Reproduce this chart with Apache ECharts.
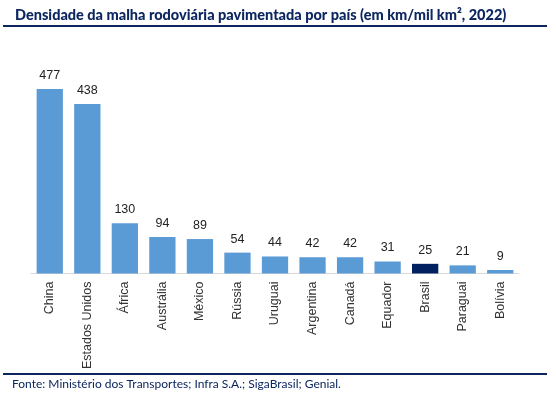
<!DOCTYPE html>
<html><head><meta charset="utf-8">
<script src="https://cdn.jsdelivr.net/npm/echarts@6/dist/echarts.min.js"></script>
<style>html,body{margin:0;padding:0;background:#fff}#c{width:556px;height:399px}</style>
</head><body><div id="c"></div>
<script>
const categories = ['China','Estados Unidos','África','Austrália','México','Rússia','Uruguai','Argentina','Canadá','Equador','Brasil','Paraguai','Bolívia'];
const values = [477,438,130,94,89,54,44,42,42,31,25,21,9];
const highlight = 'Brasil';
const titleText = 'Densidade da malha rodoviária pavimentada por país (em km/mil km², 2022)';
const sourceText = 'Fonte: Ministério dos Transportes; Infra S.A.; SigaBrasil; Genial.';

const navy = '#0c2660';
const chart = echarts.init(document.getElementById('c'), null, {renderer:'canvas'});
chart.setOption({
  animation:false,
  backgroundColor:'#fff',
  title:{text:titleText,left:10,top:3,textStyle:{fontFamily:'Lato',fontWeight:900,fontSize:14.5,color:navy}},
  graphic:[
    {type:'rect',shape:{x:3,y:25,width:544,height:2},style:{fill:navy}},
    {type:'rect',shape:{x:3,y:373,width:544,height:2},style:{fill:navy}},
    {type:'text',left:12,top:378,style:{text:sourceText,font:'12px Lato',fill:navy}}
  ],
  grid:{left:31,right:37,top:80,bottom:125.5,containLabel:false},
  xAxis:{type:'category',data:categories,
    axisLine:{lineStyle:{color:'#d9d9d9',width:1}},axisTick:{show:false},
    axisLabel:{rotate:90,fontSize:12.5,color:'#333',fontFamily:'Liberation Sans',margin:8}},
  yAxis:{type:'value',min:0,max:500,show:false,splitLine:{show:false}},
  series:[{type:'bar',barWidth:'70%',
    data:values.map((v,i)=>({value:v,itemStyle:{color:categories[i]===highlight?'#002060':'#5b9bd5'}})),
    label:{show:true,position:'top',distance:7,fontSize:12.5,color:'#222',fontFamily:'Liberation Sans'}}]
});
</script></body></html>
